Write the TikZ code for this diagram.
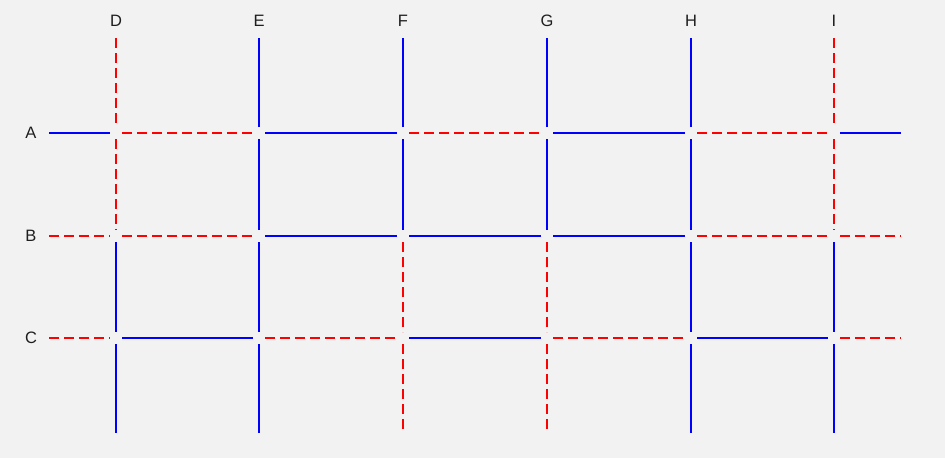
\documentclass[tikz,border=0pt]{standalone}
\usepackage{fontspec}
\setmainfont{Liberation Sans}
\definecolor{bg}{RGB}{242,242,242}
\definecolor{lblue}{RGB}{0,0,255}
\definecolor{lred}{RGB}{255,0,0}
\definecolor{txt}{RGB}{30,30,30}
\begin{document}
\begin{tikzpicture}[x=1pt,y=-1pt,
  seg/.style={line width=2pt, shorten <=6pt, shorten >=6pt},
  sol/.style={seg, draw=lblue},
  das/.style={seg, draw=lred, dash pattern=on 10pt off 5pt},
  lbl/.style={font=\fontsize{16.5}{19}\selectfont, text=txt, inner sep=0pt}]
\fill[bg] (0,0) rectangle (945,458);
\useasboundingbox (0,0) rectangle (945,458);
% grid coordinates
\foreach \c/\x in {D/116,E/259,F/403,G/547,H/691,I/834}{
  \foreach \r/\y in {A/133,B/236,C/338}{
    \coordinate (\c\r) at (\x,\y);
  }
  \coordinate (T\c) at (\x,32);
  \coordinate (B\c) at (\x,439);
  \node[lbl] (lbl\c) at (\x,21) {\c};
}
\foreach \r/\y in {A/133,B/236,C/338}{
  \coordinate (L\r) at (43,\y);
  \coordinate (R\r) at (907,\y);
  \node[lbl] (lbl\r) at (31,\y) {\r};
}
% horizontal segments
\foreach \a/\b/\s in {
  LA/DA/sol, DA/EA/das, EA/FA/sol, FA/GA/das, GA/HA/sol, HA/IA/das, IA/RA/sol,
  LB/DB/das, DB/EB/das, EB/FB/sol, FB/GB/sol, GB/HB/sol, HB/IB/das, IB/RB/das,
  LC/DC/das, DC/EC/sol, EC/FC/das, FC/GC/sol, GC/HC/das, HC/IC/sol, IC/RC/das}
  \draw[\s] (\a) -- (\b);
% vertical segments
\foreach \a/\b/\s in {
  TD/DA/das, DA/DB/das, DB/DC/sol, DC/BD/sol,
  TE/EA/sol, EA/EB/sol, EB/EC/sol, EC/BE/sol,
  TF/FA/sol, FA/FB/sol, FB/FC/das, FC/BF/das,
  TG/GA/sol, GA/GB/sol, GB/GC/das, GC/BG/das,
  TH/HA/sol, HA/HB/sol, HB/HC/sol, HC/BH/sol,
  TI/IA/das, IA/IB/das, IB/IC/sol, IC/BI/sol}
  \draw[\s] (\a) -- (\b);
\end{tikzpicture}
\end{document}
